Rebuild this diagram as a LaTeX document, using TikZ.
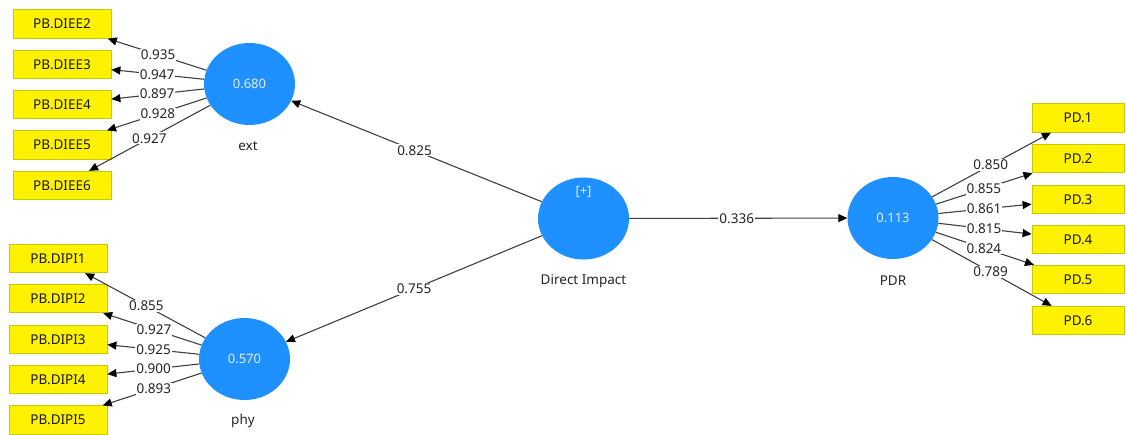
\documentclass[tikz,border=0pt]{standalone}
\usepackage{fontspec}
\setmainfont{Noto Sans}
\usetikzlibrary{arrows.meta,shapes.geometric}
\definecolor{lvblue}{RGB}{30,144,255}
\definecolor{boxedge}{RGB}{200,200,0}
\definecolor{edgegray}{RGB}{64,64,64}
\definecolor{lvtext}{RGB}{225,238,255}
\begin{document}
\begin{tikzpicture}[x=1pt,y=-1pt,
  latent/.style={ellipse, fill=lvblue, minimum width=91pt, minimum height=82pt, inner sep=0pt, text=lvtext, font=\fontsize{13}{15}\selectfont},
  ind/.style={rectangle, fill=yellow, draw=boxedge, line width=0.8pt, minimum width=98pt, minimum height=28.5pt, inner sep=0pt, text=black!90, font=\fontsize{13.5}{15}\selectfont},
  indr/.style={ind, minimum width=92pt},
  lbl/.style={fill=white, inner sep=1pt, text=black!85, font=\fontsize{13.5}{15}\selectfont},
  caption/.style={text=black!85, font=\fontsize{13.5}{15}\selectfont},
  conn/.style={draw=edgegray, line width=1.1pt, -{Triangle[length=9pt,width=8pt,color=black]}}]
\useasboundingbox (0,0) rectangle (1126,434);
% latent variables
\node[latent] (ext) at (249.5,84) {0.680};
\node[latent] (phy) at (244.5,359) {0.570};
\node[latent] (di) at (583.5,218.5) {};
\node[latent] (pdr) at (893,218) {0.113};
\node[text=lvtext, font=\fontsize{13}{15}\selectfont] (plus) at (583.5,192) {[+]};
\node[caption] (extc) at (248,146) {ext};
\node[caption] (phyc) at (243,421) {phy};
\node[caption] (dic) at (583.5,281) {Direct Impact};
\node[caption] (pdrc) at (893,281) {PDR};
% indicators ext
\node[ind] (d2) at (62,24) {PB.DIEE2};
\node[ind] (d3) at (62,64.5) {PB.DIEE3};
\node[ind] (d4) at (62,104.5) {PB.DIEE4};
\node[ind] (d5) at (62,145) {PB.DIEE5};
\node[ind] (d6) at (62,185.5) {PB.DIEE6};
% indicators phy
\node[ind] (i1) at (58,258.5) {PB.DIPI1};
\node[ind] (i2) at (58,298.5) {PB.DIPI2};
\node[ind] (i3) at (58,339.5) {PB.DIPI3};
\node[ind] (i4) at (58,379.5) {PB.DIPI4};
\node[ind] (i5) at (58,420) {PB.DIPI5};
% indicators PDR
\node[indr] (p1) at (1078,118) {PD.1};
\node[indr] (p2) at (1078,158.5) {PD.2};
\node[indr] (p3) at (1078,199.5) {PD.3};
\node[indr] (p4) at (1078,239.5) {PD.4};
\node[indr] (p5) at (1078,279.5) {PD.5};
\node[indr] (p6) at (1078,320.5) {PD.6};
% structural paths
\draw[conn] (di) -- node[lbl, pos=0.508] {0.825} (ext);
\draw[conn] (di) -- node[lbl, pos=0.5] {0.755} (phy);
\draw[conn] (di) -- node[lbl, pos=0.493] {0.336} (pdr);
% ext loadings
\draw[conn] (ext) -- node[lbl, pos=0.49] {0.935} (d2);
\draw[conn] (ext) -- node[lbl, pos=0.507] {0.947} (d3);
\draw[conn] (ext) -- node[lbl, pos=0.507] {0.897} (d4);
\draw[conn] (ext) -- node[lbl, pos=0.49] {0.928} (d5);
\draw[conn] (ext) -- node[lbl, pos=0.503] {0.927} (d6);
% phy loadings
\draw[conn] (phy) -- node[lbl, pos=0.49] {0.855} (i1);
\draw[conn] (phy) -- node[lbl, pos=0.483] {0.927} (i2);
\draw[conn] (phy) -- node[lbl, pos=0.496] {0.925} (i3);
\draw[conn] (phy) -- node[lbl, pos=0.496] {0.900} (i4);
\draw[conn] (phy) -- node[lbl, pos=0.483] {0.893} (i5);
% PDR loadings
\draw[conn] (pdr) -- node[lbl, pos=0.493] {0.850} (p1);
\draw[conn] (pdr) -- node[lbl, pos=0.496] {0.855} (p2);
\draw[conn] (pdr) -- node[lbl, pos=0.49] {0.861} (p3);
\draw[conn] (pdr) -- node[lbl, pos=0.49] {0.815} (p4);
\draw[conn] (pdr) -- node[lbl, pos=0.49] {0.824} (p5);
\draw[conn] (pdr) -- node[lbl, pos=0.49] {0.789} (p6);
\end{tikzpicture}
\end{document}
